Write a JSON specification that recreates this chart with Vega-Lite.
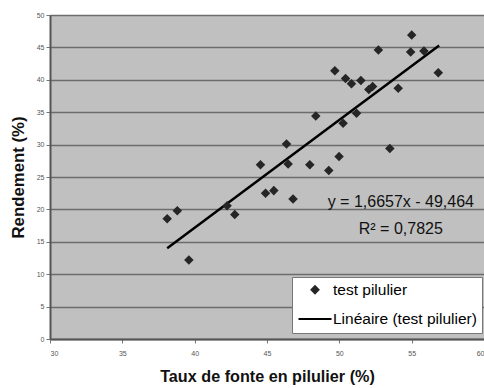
{
  "$schema": "https://vega.github.io/schema/vega-lite/v6.json",
  "width": 434,
  "height": 324,
  "autosize": "none",
  "padding": {"left": 50, "top": 15, "right": 0, "bottom": 49},
  "background": "white",
  "config": {
    "font": "Liberation Sans",
    "view": {"fill": "#c0c0c0", "stroke": "#a8a8a8", "strokeWidth": 1}
  },
  "datasets": {
    "pts": [
      {"x": 55.0, "y": 46.9, "s": "test pilulier"}, {"x": 52.7, "y": 44.6, "s": "test pilulier"},
      {"x": 54.93, "y": 44.3, "s": "test pilulier"}, {"x": 55.85, "y": 44.45, "s": "test pilulier"},
      {"x": 56.84, "y": 41.1, "s": "test pilulier"}, {"x": 49.69, "y": 41.4, "s": "test pilulier"},
      {"x": 50.43, "y": 40.2, "s": "test pilulier"}, {"x": 50.84, "y": 39.4, "s": "test pilulier"},
      {"x": 51.49, "y": 39.9, "s": "test pilulier"}, {"x": 52.04, "y": 38.5, "s": "test pilulier"},
      {"x": 52.3, "y": 38.95, "s": "test pilulier"}, {"x": 54.07, "y": 38.7, "s": "test pilulier"},
      {"x": 48.37, "y": 34.4, "s": "test pilulier"}, {"x": 50.26, "y": 33.3, "s": "test pilulier"},
      {"x": 51.19, "y": 34.85, "s": "test pilulier"}, {"x": 46.35, "y": 30.1, "s": "test pilulier"},
      {"x": 53.49, "y": 29.4, "s": "test pilulier"}, {"x": 44.55, "y": 26.9, "s": "test pilulier"},
      {"x": 46.46, "y": 27.0, "s": "test pilulier"}, {"x": 47.96, "y": 26.9, "s": "test pilulier"},
      {"x": 49.27, "y": 26.0, "s": "test pilulier"}, {"x": 49.98, "y": 28.15, "s": "test pilulier"},
      {"x": 44.9, "y": 22.5, "s": "test pilulier"}, {"x": 45.47, "y": 22.9, "s": "test pilulier"},
      {"x": 46.8, "y": 21.6, "s": "test pilulier"}, {"x": 42.24, "y": 20.55, "s": "test pilulier"},
      {"x": 42.77, "y": 19.2, "s": "test pilulier"}, {"x": 38.1, "y": 18.55, "s": "test pilulier"},
      {"x": 38.8, "y": 19.8, "s": "test pilulier"}, {"x": 39.6, "y": 12.2, "s": "test pilulier"}
    ],
    "trend": [
      {"x": 38.1, "y": 13.99},
      {"x": 56.9, "y": 45.31}
    ],
    "labels": [
      {"x": 54.25, "y": 21.2, "t": "y = 1,6657x - 49,464"},
      {"x": 54.25, "y": 17.0, "t": "R² = 0,7825"}
    ]
  },
  "encoding": {
    "x": {
      "field": "x", "type": "quantitative",
      "scale": {"domain": [30, 60], "nice": false, "zero": false},
      "axis": {
        "values": [30, 35, 40, 45, 50, 55, 60],
        "grid": false,
        "labelFontSize": 7, "labelColor": "#555555", "labelOverlap": false,
        "tickColor": "#777777", "tickSize": 4, "labelPadding": 6,
        "domainColor": "#555555", "domainWidth": 2,
        "title": "Taux de fonte en pilulier (%)",
        "titleFontSize": 16.2, "titleFontWeight": "bold", "titleColor": "#111111",
        "titlePadding": 12
      }
    },
    "y": {
      "field": "y", "type": "quantitative",
      "scale": {"domain": [0, 50], "nice": false, "zero": true},
      "axis": {
        "values": [0, 5, 10, 15, 20, 25, 30, 35, 40, 45, 50],
        "grid": true, "gridColor": "#6c6c6c", "gridWidth": 1.6,
        "labelFontSize": 7, "labelColor": "#555555", "labelOverlap": false,
        "tickColor": "#777777", "tickSize": 4, "labelPadding": 2,
        "domainColor": "#555555", "domainWidth": 2,
        "title": "Rendement (%)",
        "titleFontSize": 16.8, "titleFontWeight": "bold", "titleColor": "#111111",
        "titlePadding": 9
      }
    }
  },
  "layer": [
    {
      "data": {"name": "trend"},
      "mark": {"type": "line", "color": "#000000", "strokeWidth": 2.5}
    },
    {
      "data": {"name": "pts"},
      "mark": {"type": "point", "filled": false, "fill": "#262626", "fillOpacity": 1, "opacity": 1, "strokeWidth": 2},
      "encoding": {
        "shape": {
          "field": "s",
          "type": "nominal",
          "scale": {"domain": ["test pilulier", "Linéaire (test pilulier)"], "range": ["diamond", "stroke"]},
          "legend": {
            "orient": "none", "legendX": 242, "legendY": 262, "title": null,
            "fillColor": "white", "strokeColor": "#777777", "padding": 5,
            "labelFontSize": 15.5, "labelColor": "#000000", "labelOffset": 0,
            "rowPadding": 2, "symbolStrokeWidth": 2.2, "symbolOpacity": 1
          }
        },
        "color": {
          "field": "s",
          "type": "nominal",
          "scale": {"domain": ["test pilulier", "Linéaire (test pilulier)"], "range": ["#262626", "#000000"]}
        },
        "size": {
          "field": "s",
          "type": "nominal",
          "scale": {"domain": ["test pilulier", "Linéaire (test pilulier)"], "range": [45, 1089]}
        }
      }
    },
    {
      "data": {"name": "labels"},
      "mark": {"type": "text", "fontSize": 16, "color": "#111111", "align": "center", "baseline": "middle"},
      "encoding": {
        "text": {"field": "t"}
      }
    }
  ]
}
